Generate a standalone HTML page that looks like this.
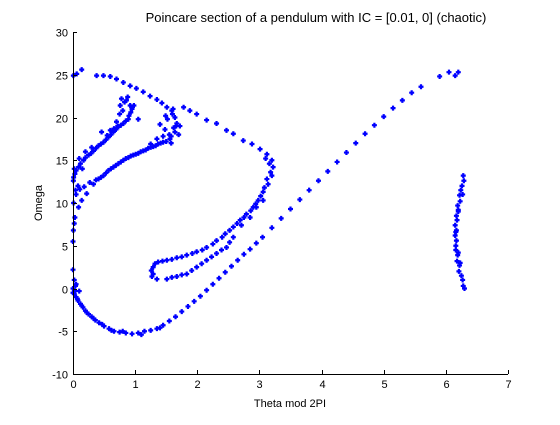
<!DOCTYPE html>
<html><head><meta charset="utf-8"><style>
body{margin:0;background:#fff}
svg text{font-family:"Liberation Sans",sans-serif;font-size:11px;fill:#000}
</style></head><body>
<svg id="chart" width="560" height="420" xmlns="http://www.w3.org/2000/svg">
<rect width="560" height="420" fill="#fff"/>
<text x="316" y="22" text-anchor="middle" style="font-size:13px">Poincare section of a pendulum with IC = [0.01, 0] (chaotic)</text>
<g id="marks"></g>
<g id="axes"></g>
<text x="290" y="407" text-anchor="middle">Theta mod 2PI</text>
<text x="42" y="203" text-anchor="middle" transform="rotate(-90 42 203)">Omega</text>
</svg>
<script>
const xTicks=[0,1,2,3,4,5,6,7];
const yTicks=[-10,-5,0,5,10,15,20,25,30];
const loopTheta=[0.00,0.02,0.05,0.08,0.12,0.16,0.20,0.25,0.30,0.36,0.42,0.50,0.58,0.66,0.75,0.85,0.95,1.05,1.15,1.25,1.35,1.45,1.55,1.65,1.75,1.85,1.95,2.05,2.15,2.25,2.35,2.45,2.55,2.65,2.75,2.85,2.95,3.05,3.2,3.35,3.5,3.65,3.8,3.95,4.1,4.25,4.4,4.55,4.7,4.85,5.0,5.15,5.3,5.45,5.6,5.9,6.05,6.15,6.2,0.0,0.02,0.05,0.1,0.03,0.07,0.14,0.22,0.33,0.47,0.62,0.8,1.1,1.4,0.0,0.04];
const loopOmega=[0.0,-0.6,-1.0,-1.4,-1.8,-2.2,-2.6,-3.0,-3.3,-3.7,-4.0,-4.4,-4.7,-5.0,-5.1,-5.2,-5.3,-5.2,-5.0,-4.9,-4.7,-4.3,-3.8,-3.3,-2.7,-2.1,-1.5,-0.9,-0.2,0.5,1.2,1.9,2.6,3.3,4.0,4.6,5.3,6.0,7.1,8.2,9.3,10.4,11.5,12.6,13.7,14.8,15.9,17.0,18.1,19.1,20.1,21.1,22.0,22.9,23.6,24.8,25.3,24.9,25.3,2.2,1.0,0.5,-0.3,-0.3,-1.2,-2.0,-2.8,-3.5,-4.2,-4.9,-5.0,-5.4,-4.6,-0.5,0.3];
const outerTheta=[0.006,0.02,0.03,0.09,0.14,0.22,0.33,0.41,0.49,0.57,0.65,0.73,0.81,0.89,0.97,1.05,1.13,1.21,1.29,1.37,1.45,1.56,1.64,1.67,1.64,1.59,1.51,1.43,1.35,1.24,1.13,1.02,0.92,0.81,0.70,0.60,0.49,0.38,0.006,0.06,0.14,0.0,0.01,0.05,0.11,0.18,0.27,0.37,0.45,0.53,0.61,0.69,0.77,0.85,0.93,1.01,1.09,1.17,1.25,1.33,1.41,1.5,1.58,1.62,1.55,1.48,1.40,1.52,1.60,1.66,1.70,1.58,1.45,1.35,1.25,1.49,1.61,1.72];
const outerOmega=[6.8,7.6,8.3,9.5,10.3,11.1,12.2,12.8,13.2,13.8,14.2,14.6,15.0,15.3,15.6,15.8,16.1,16.4,16.6,16.9,17.1,17.5,18.3,19.3,20.0,20.8,21.2,21.7,22.1,22.5,23.0,23.4,23.7,24.1,24.5,24.8,24.9,24.9,24.9,25.1,25.6,5.5,10.0,11.0,11.6,11.9,12.4,12.7,13.0,13.5,14.0,14.4,14.8,15.2,15.5,15.7,16.0,16.2,16.5,16.7,17.0,17.2,17.8,18.8,18.0,18.6,19.2,19.8,20.4,19.0,18.0,17.0,17.8,17.5,16.9,20.2,21.0,19.0];
const innerTheta=[0.006,0.03,0.09,0.17,0.25,0.33,0.41,0.49,0.57,0.65,0.73,0.81,0.89,0.93,0.92,0.86,0.78,0.76,0.75,0.70,0.60,0.46,0.98,1.05,0.01,0.05,0.12,0.2,0.29,0.37,0.45,0.53,0.61,0.69,0.77,0.85,0.90,0.95,0.83,0.8,0.88,0.72,0.66,0.55,0.02,0.1,0.2,0.3,0.15,0.08,0.04];
const innerOmega=[12.6,13.4,14.2,15.0,15.6,16.1,16.7,17.1,17.7,18.3,18.9,19.3,19.8,20.6,21.4,22.0,22.2,21.4,20.4,19.5,18.5,18.3,21.4,19.8,13.0,13.8,14.6,15.3,15.8,16.4,16.9,17.4,18.0,18.6,19.1,19.6,20.2,21.0,21.8,20.8,22.4,19.0,18.7,17.9,14.0,15.2,16.0,16.5,14.0,12.0,11.5];
const sweepTheta=[1.78,1.88,1.99,2.15,2.31,2.47,2.58,2.74,2.88,3.01,3.12,3.20,3.22,3.20,3.14,3.06,2.98,2.9,2.79,2.69,2.58,2.45,2.31,2.15,1.99,1.83,1.67,1.51,1.37,1.29,1.29,1.35,3.1,3.16,3.18,3.12,3.08,3.02,2.94,2.86,2.75,2.64,2.52,2.40,2.25,2.08,1.92,1.75,1.59,1.44,1.32,1.26,1.27];
const sweepOmega=[21.2,20.8,20.4,19.7,19.3,18.5,18.1,17.3,16.9,16.3,15.7,15.0,14.2,13.2,12.2,11.3,10.3,9.5,8.7,8.0,7.2,6.4,5.6,4.8,4.3,3.9,3.6,3.3,3.1,2.5,1.7,1.1,15.2,14.6,13.6,12.8,11.8,10.8,9.9,9.1,8.3,7.6,6.8,6.0,5.2,4.5,4.1,3.7,3.4,3.2,2.9,2.1,1.4];
const returnTheta=[1.51,1.67,1.83,1.99,2.15,2.31,2.47,2.58,2.71,2.85,2.95,3.06,1.59,1.75,1.91,2.07,2.23,2.39,2.52];
const returnOmega=[1.1,1.4,1.7,2.5,3.3,4.1,4.8,6.0,7.4,8.3,9.5,10.3,1.3,1.6,2.1,2.9,3.7,4.5,5.4];
const arcTheta=[6.28,6.26,6.22,6.19,6.17,6.15,6.15,6.16,6.19,6.22,6.25,6.28,6.24,6.2,6.17,6.16,6.18,6.21,6.29,6.27,6.23,6.2,6.18,6.16,6.17,6.2,6.23,6.27,6.3];
const arcOmega=[13.2,12.0,10.9,9.7,8.5,7.4,6.2,5.0,3.9,2.7,1.5,0.3,11.5,9.0,6.8,4.5,3.2,2.0,12.6,11.0,10.2,9.2,8.0,6.6,5.6,4.2,3.0,1.0,0.0];

const X0=73,X1=508,Y0=374,Y1=32;
const sx=v=>X0+(v-0)/(7-0)*(X1-X0);
const sy=v=>Y0-(v+10)/(30+10)*(Y0-Y1);
const NS="http://www.w3.org/2000/svg";
const marks=document.getElementById('marks');
const series=[[loopTheta,loopOmega],[outerTheta,outerOmega],[innerTheta,innerOmega],[sweepTheta,sweepOmega],[returnTheta,returnOmega],[arcTheta,arcOmega]];
series.forEach(s=>{
  for(let i=0;i<s[0].length;i++){
    const x=sx(s[0][i]),y=sy(s[1][i]);
    const p=document.createElementNS(NS,'path');
    p.setAttribute('d',`M${x-2.5},${y}H${x+2.5}M${x},${y-2.5}V${y+2.5}`);
    p.setAttribute('stroke','#0000ff');
    p.setAttribute('stroke-width','2.2');
    
    
    marks.appendChild(p);
  }
});
const axes=document.getElementById('axes');
function ln(x1,y1,x2,y2,name){
  const l=document.createElementNS(NS,'line');
  l.setAttribute('x1',x1);l.setAttribute('y1',y1);l.setAttribute('x2',x2);l.setAttribute('y2',y2);
  l.setAttribute('stroke','#000');l.setAttribute('stroke-width','1');
  
  
  axes.appendChild(l);
}
function tx(x,y,s,anchor,name){
  const t=document.createElementNS(NS,'text');
  t.setAttribute('x',x);t.setAttribute('y',y);t.setAttribute('text-anchor',anchor);t.textContent=s;
  
  
  axes.appendChild(t);
}
ln(X0+0.5,Y1,X0+0.5,Y0+0.5,'y-axis-line');
ln(X0,Y0+0.5,X1,Y0+0.5,'x-axis-line');
xTicks.forEach(v=>{const x=Math.round(sx(v))+0.5;ln(x,Y0,x,Y0-4,'x-tick');tx(x,Y0+14,String(v),'middle','x-tick-label');});
yTicks.forEach(v=>{const y=Math.round(sy(v))+0.5;ln(X0,y,X0+4,y,'y-tick');tx(X0-5,y+4,String(v),'end','y-tick-label');});
</script>
</body></html>
